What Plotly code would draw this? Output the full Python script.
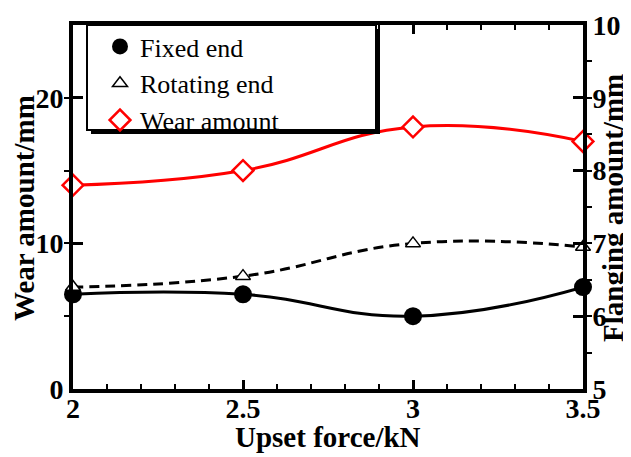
import plotly.graph_objects as go

# ---- data ----
upset_force = [2.0, 2.5, 3.0, 3.5]
fixed_end = [6.3, 6.3, 6.0, 6.4]        # flanging amount (right axis)
rotating_end = [6.4, 6.55, 7.0, 6.95]   # flanging amount (right axis)
wear_amount = [14, 15, 18, 17]          # wear amount (left axis)

x_ticks = [2, 2.5, 3, 3.5]
x_tick_text = ["2", "2.5", "3", "3.5"]
left_ticks = [0, 10, 20]
right_ticks = [5, 6, 7, 8, 9, 10]

FONT = "Liberation Serif"
# page is offset by the 8px default body margin
OFF = 8
W, H = 631 - OFF, 457 - OFF
PL, PR, PT, PB = 73, 583, 25, 389          # plot area in page pixels
L, T = PL - OFF, PT - OFF
R, B = 631 - PR, 457 - PB


def px_x(p):
    return (p - PL) / (PR - PL)


def px_y(p):
    return (PB - p) / (PB - PT)


fig = go.Figure()

# smooth lines (no legend)
fig.add_trace(go.Scatter(x=upset_force, y=wear_amount, mode="lines", yaxis="y",
                         line=dict(color="#ff0000", width=3, shape="spline", smoothing=1.3),
                         showlegend=False, hoverinfo="skip"))
fig.add_trace(go.Scatter(x=upset_force, y=fixed_end, mode="lines", yaxis="y2",
                         line=dict(color="black", width=3, shape="spline", smoothing=1.3),
                         showlegend=False, hoverinfo="skip"))
fig.add_trace(go.Scatter(x=upset_force, y=rotating_end, mode="lines", yaxis="y2",
                         line=dict(color="black", width=3, shape="spline", smoothing=1.3,
                                   dash="10px,6px"),
                         showlegend=False, hoverinfo="skip"))

# markers (legend entries)
fig.add_trace(go.Scatter(x=upset_force, y=fixed_end, mode="markers", yaxis="y2",
                         name="Fixed end", cliponaxis=False,
                         marker=dict(symbol="circle", size=18, color="black",
                                     line=dict(color="black", width=0))))
fig.add_trace(go.Scatter(x=upset_force, y=rotating_end, mode="markers", yaxis="y2",
                         name="Rotating end", cliponaxis=False,
                         marker=dict(symbol="triangle-up", size=13, color="white",
                                     line=dict(color="black", width=1.5))))
fig.add_trace(go.Scatter(x=upset_force, y=wear_amount, mode="markers", yaxis="y",
                         name="Wear amount", cliponaxis=False,
                         marker=dict(symbol="diamond", size=16, color="white",
                                     line=dict(color="#ff0000", width=2.5))))

tickfont = dict(family=FONT, size=28, color="black", weight="bold")
titlefont = dict(family=FONT, size=29, color="black", weight="bold")

fig.update_layout(
    width=W, height=H,
    margin=dict(l=L, r=R, t=T, b=B, autoexpand=False),
    paper_bgcolor="white", plot_bgcolor="white",
    font=dict(family=FONT, color="black"),
    showlegend=True,
    legend=dict(x=px_x(100), y=px_y(23), xanchor="left", yanchor="top",
                bgcolor="rgba(0,0,0,0)", borderwidth=0,
                font=dict(family=FONT, size=26, color="black"),
                tracegroupgap=0),
    xaxis=dict(range=[2, 3.5], tickvals=x_ticks, ticktext=x_tick_text,
               showgrid=False, zeroline=False,
               showline=True, linecolor="black", linewidth=4, mirror="ticks",
               ticks="inside", ticklen=9, tickwidth=3, tickcolor="black",
               minor=dict(dtick=0.1, ticks="inside", ticklen=5, tickwidth=2,
                          tickcolor="black", showgrid=False),
               tickfont=tickfont, ticklabelstandoff=-9),
    yaxis=dict(range=[0, 25], tickvals=left_ticks, showgrid=False, zeroline=False,
               showline=True, linecolor="black", linewidth=4,
               ticks="inside", ticklen=10, tickwidth=3, tickcolor="black",
               minor=dict(dtick=5, ticks="outside", ticklen=5, tickwidth=2,
                          tickcolor="black", showgrid=False),
               tickfont=tickfont),
    yaxis2=dict(range=[5, 10], tickvals=right_ticks, overlaying="y", side="right",
                showgrid=False, zeroline=False,
                showline=True, linecolor="black", linewidth=4,
                ticks="inside", ticklen=10, tickwidth=3, tickcolor="black",
                minor=dict(dtick=0.5, ticks="outside", ticklen=5, tickwidth=2,
                           tickcolor="black", showgrid=False),
                tickfont=tickfont),
    shapes=[
        # legend drop shadow
        dict(type="rect", xref="paper", yref="paper", layer="above",
             x0=px_x(91), x1=px_x(380), y0=px_y(134), y1=px_y(29),
             fillcolor="black", line=dict(width=0)),
        # legend box
        dict(type="rect", xref="paper", yref="paper", layer="above",
             x0=px_x(87), x1=px_x(376), y0=px_y(130), y1=px_y(25),
             fillcolor="white", line=dict(color="black", width=2)),
    ],
    annotations=[
        dict(text="Upset force/kN", xref="paper", yref="paper",
             x=0.5, y=px_y(437), xanchor="center", yanchor="middle",
             showarrow=False, font=titlefont),
        dict(text="Wear amount/mm", xref="paper", yref="paper",
             x=px_x(24), y=px_y(208), xanchor="center", yanchor="middle",
             textangle=-90, showarrow=False, font=titlefont),
        dict(text="Flanging amount/mm", xref="paper", yref="paper",
             x=px_x(613), y=px_y(208), xanchor="center", yanchor="middle",
             textangle=-90, showarrow=False, font=titlefont),
    ],
)

fig.write_html("out.html")
